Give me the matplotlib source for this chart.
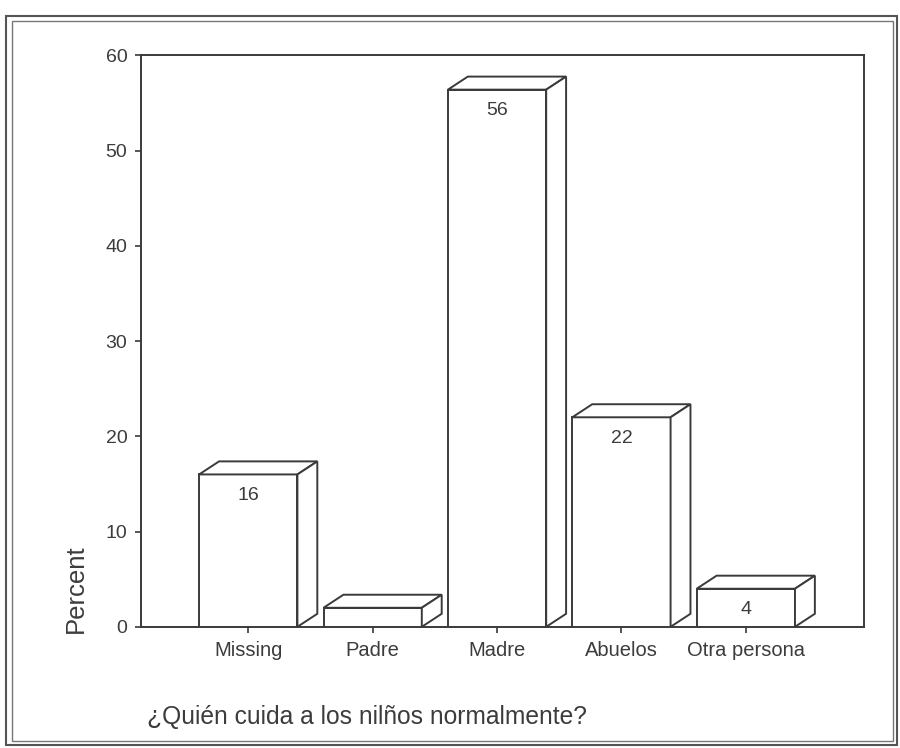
import matplotlib.pyplot as plt
from matplotlib.patches import Polygon, Rectangle

plt.rcParams['font.family'] = ['Liberation Sans', 'DejaVu Sans']

categories = ["Missing", "Padre", "Madre", "Abuelos", "Otra persona"]
percent = [16.0, 2.0, 56.4, 22.0, 4.0]
show_label = [True, False, True, True, True]
y_ticks = [0, 10, 20, 30, 40, 50, 60]

line_col = "#3a3a3a"
text_col = "#3c3c3c"

fig = plt.figure(figsize=(9, 7.48), dpi=100)
ax = fig.add_axes([0.157, 0.162, 0.803, 0.764])

width = 0.79
dx, dy = 0.16, 1.37  # depth of the fake 3D boxes

for i, v in enumerate(percent):
    x0, x1 = i - width / 2, i + width / 2
    ax.add_patch(Rectangle((x0, 0), width, v, facecolor="white",
                           edgecolor=line_col, lw=1.4, zorder=3))
    top = [(x0, v), (x1, v), (x1 + dx, v + dy), (x0 + dx, v + dy)]
    side = [(x1, 0), (x1 + dx, dy), (x1 + dx, v + dy), (x1, v)]
    for pts in (top, side):
        ax.add_patch(Polygon(pts, closed=True, facecolor="white",
                             edgecolor=line_col, lw=1.4, zorder=3))
    if show_label[i]:
        ax.text(i, v - 2.2, f"{v:.0f}", ha="center", va="center",
                fontsize=14, color=text_col, zorder=4)

ax.set_xlim(-0.86, 4.95)
ax.set_ylim(0, 60)
ax.set_xticks(range(len(categories)))
ax.set_xticklabels(categories)
ax.set_yticks(y_ticks)
ax.tick_params(axis="both", colors=line_col, labelcolor=text_col,
               length=4, width=1.2, direction="out")
ax.tick_params(axis="x", labelsize=14.5, pad=6)
ax.tick_params(axis="y", labelsize=14, pad=6)
for s in ax.spines.values():
    s.set_color(line_col)
    s.set_linewidth(1.4)

ax.set_ylabel("Percent", fontsize=18.5, color=text_col, loc="bottom")
ax.yaxis.set_label_coords(-0.074, -0.01)
fig.text(0.163, 0.041, "¿Quién cuida a los nilños normalmente?",
         fontsize=17.7, color=text_col, ha="left", va="center")

# double frame around the whole chart
fig.patches.append(Rectangle((0.007, 0.004), 0.990, 0.975, transform=fig.transFigure,
                             fill=False, edgecolor="#555555", lw=1.5))
fig.patches.append(Rectangle((0.013, 0.009), 0.979, 0.963, transform=fig.transFigure,
                             fill=False, edgecolor="#777777", lw=1.0))

fig.savefig("out.png", dpi=100)
